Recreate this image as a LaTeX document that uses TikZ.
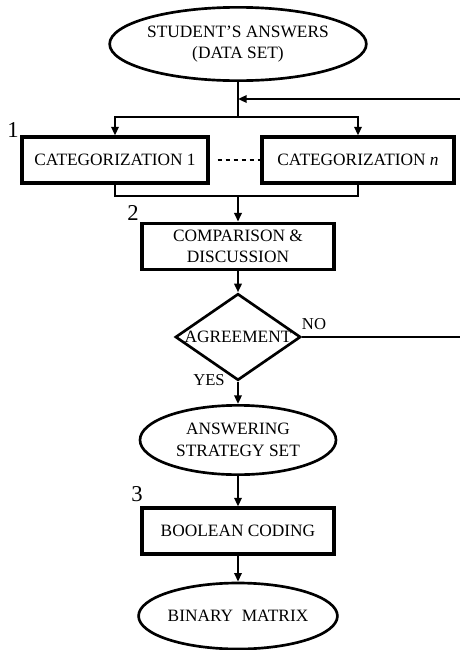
\documentclass[tikz,border=0pt]{standalone}
\usepackage{fontspec}
\setmainfont{Liberation Serif}
\usetikzlibrary{shapes.geometric,arrows.meta}

\tikzset{every picture/.style={line width=2pt}}
\tikzset{
  txt/.style={font=\fontsize{13}{16}\selectfont, align=center},
  terminal/.style={ellipse, draw, txt, inner sep=0pt, minimum width=147pt, minimum height=52pt},
  process/.style={rectangle, draw, txt, line width=2.3pt, inner sep=0pt, minimum width=144pt, minimum height=35pt},
  decision/.style={diamond, draw, inner sep=0pt, minimum width=94pt, minimum height=65pt},
  stepno/.style={font=\fontsize{17}{17}\selectfont},
  arrow/.style={-{Triangle[length=6.5pt,width=5.5pt]}},
}

\begin{document}
\begin{tikzpicture}[x=0.75pt,y=0.75pt,yscale=-1,xscale=1]

\useasboundingbox (0,0) rectangle (460,650);

% Terminal
\node [terminal, minimum width=148.5pt, minimum height=55pt] (data) at (238,44) {STUDENT'S ANSWERS\\(DATA SET)};
% Process
\node [process, minimum width=139.5pt, minimum height=34.5pt] (cat1) at (115,160) {CATEGORIZATION 1};
\node [process, minimum height=34.5pt] (catn) at (358,160) {CATEGORIZATION \textit{n}};
\node [process] (comp) at (238,246.5) {COMPARISON \&\\DISCUSSION};
% Decision
\node [decision, label={[txt]center:AGREEMENT}] (agree) at (238,337) {};
% Terminal
\node [terminal] (strat) at (238,440) {ANSWERING\\STRATEGY SET};
% Process
\node [process, minimum height=34.5pt] (bool) at (238,531) {BOOLEAN CODING};
% Terminal
\node [terminal, minimum height=49.5pt] (matrix) at (238,616) {BINARY~~MATRIX};

% Step numbers
\node [stepno] (n1) at (13,130) {1};
\node [stepno] (n2) at (133,213) {2};
\node [stepno] (n3) at (137,494) {3};
% Text Node
\node [txt, font=\fontsize{12.5}{14}\selectfont] (no) at (314,324) {NO};
\node [txt, font=\fontsize{12.5}{14}\selectfont] (yes) at (209,380) {YES};

% Coordinates
\coordinate (split) at (238,117);
\coordinate (merge) at (238,196);
\coordinate (back) at (460,99);
\coordinate (noend) at (460,337);

% Connection
\draw (data) -- (split);
\draw [arrow] (split) -| (cat1);
\draw [arrow] (split) -| (catn);
\draw [arrow] (back) -- (data.south |- back);
\draw [dashed, line width=0.8pt, shorten <=6pt] (cat1) -- (catn);
\draw (cat1) |- (merge) -| (catn);
\draw [arrow] (merge) -- (comp);
\draw [arrow] (comp) -- (agree);
\draw (agree.east) -- (noend);
\draw [arrow] (agree) -- (strat);
\draw [arrow] (strat) -- (bool);
\draw [arrow] (bool) -- (matrix);

\end{tikzpicture}
\end{document}
